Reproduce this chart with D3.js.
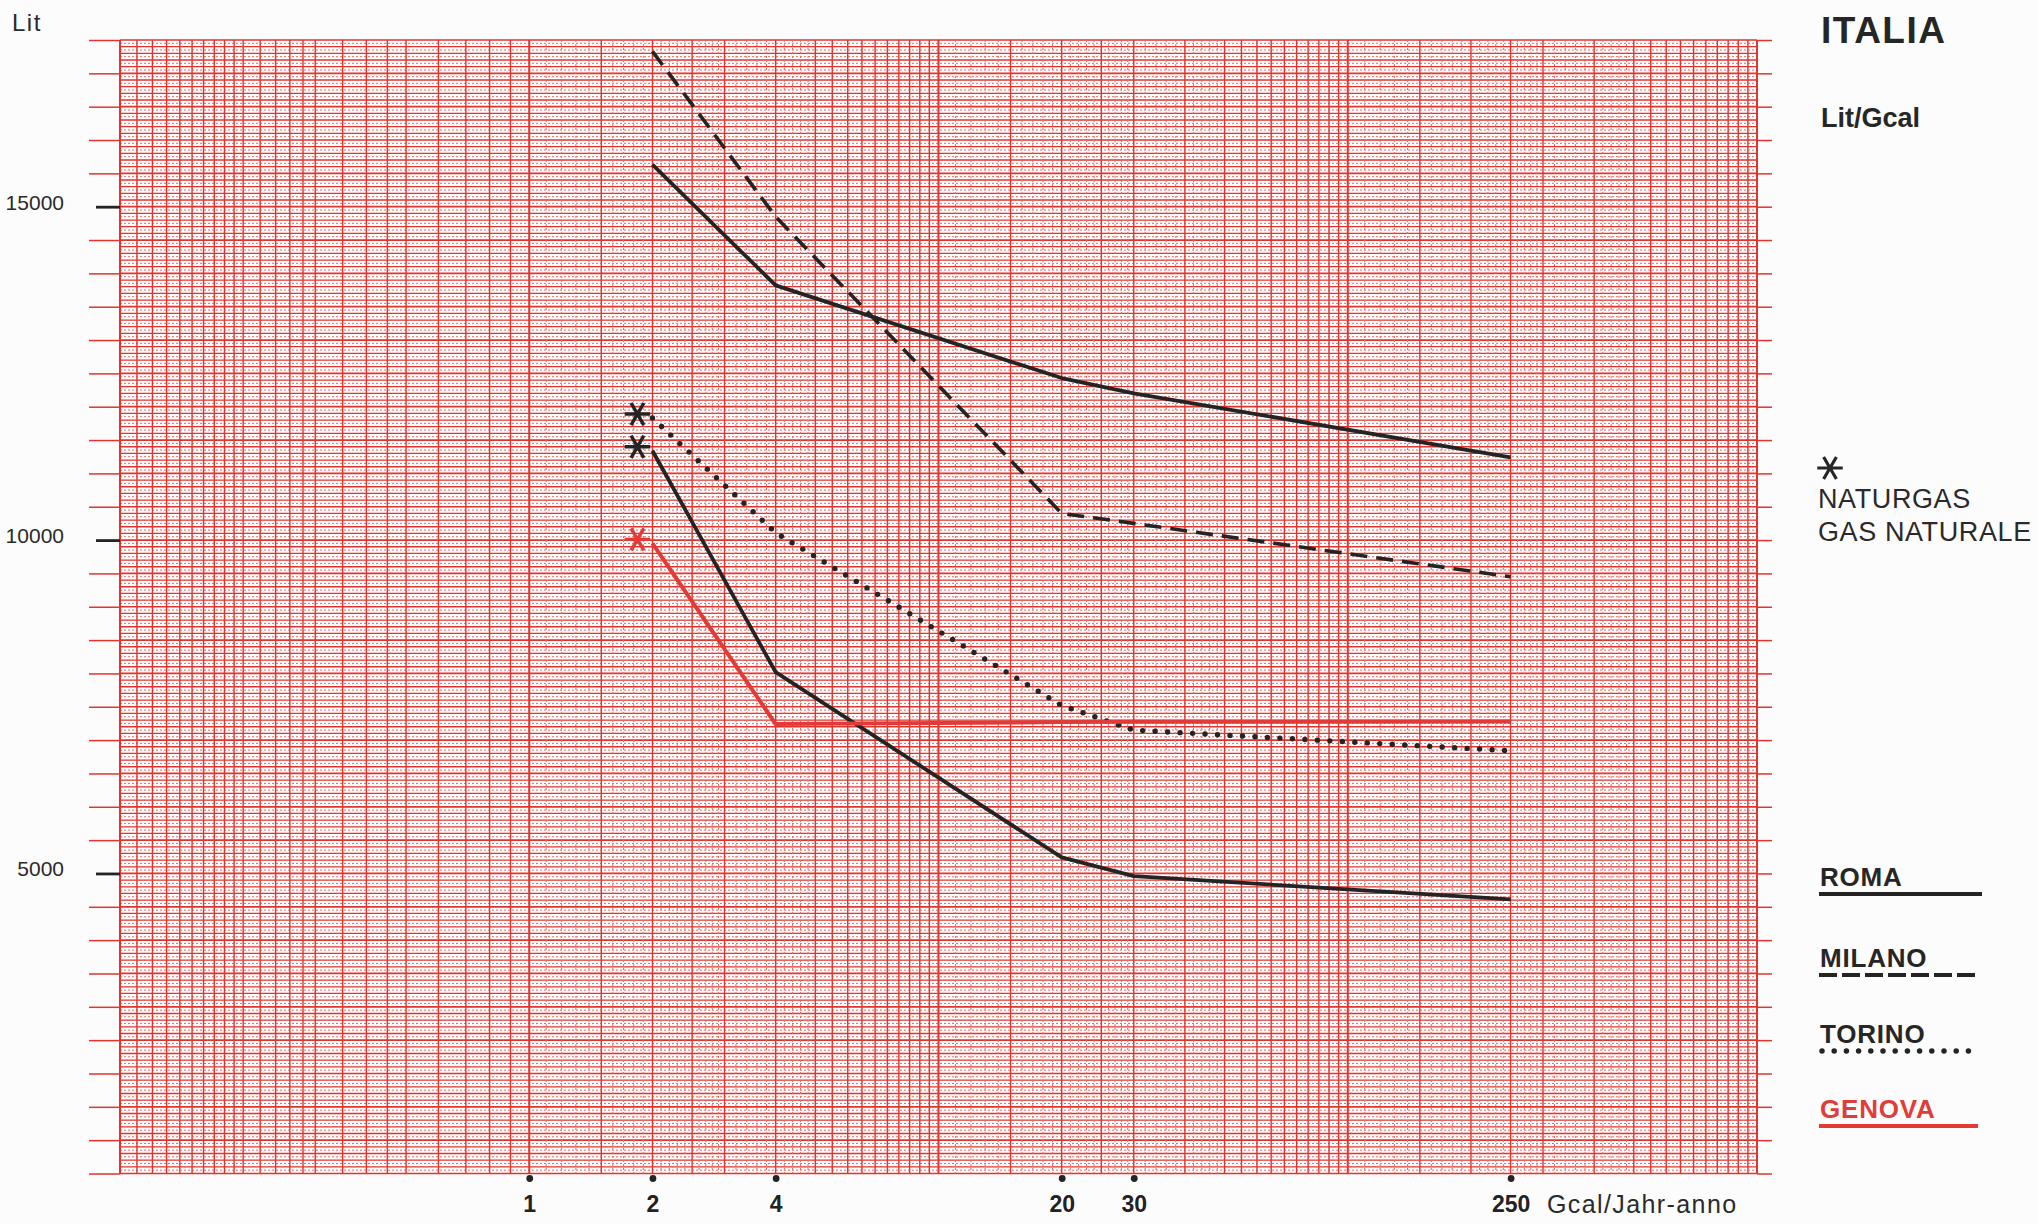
<!DOCTYPE html>
<html>
<head>
<meta charset="utf-8">
<script src="https://cdn.jsdelivr.net/npm/d3@7"></script>
<style>
  html, body { margin: 0; padding: 0; background: #fcfcfc; }
  svg { display: block; }
  text { font-family: "Liberation Sans", Arial, Helvetica, sans-serif; }
</style>
</head>
<body>
<svg id="chart" width="2038" height="1224"></svg>
<script>
// ---- data ----
const xValues = [2, 4, 20, 30, 250];                       // Gcal/Jahr-anno
const romaStadtgas = [15630, 13820, 12430, 12200, 11240];  // solid, upper
const romaNaturgas = [11340, 8020, 5240, 4960, 4610];      // solid, lower (*)
const milano = [17330, 14850, 10400, 10250, 9450];         // dashed
const torino = [11830, 10110, 7520, 7150, 6840];           // dotted (*)
const genova = [9950, 7240, 7270, 7275, 7280];             // red (*)
const xTickValues = [1, 2, 4, 20, 30, 250];
const yTickLabels = [5000, 10000, 15000];
const legendNames = ["ROMA", "MILANO", "TORINO", "GENOVA"];
const naturgasLabels = ["NATURGAS", "GAS NATURALE"];
// log-paper rulings (multipliers inside one decade)
const firstDecadeStrong = [1, 1.1, 1.2, 1.3, 1.4, 1.5, 1.6, 1.7, 1.8, 1.9, 2, 2.2, 2.4, 2.6, 2.8, 3, 3.5, 4, 4.5, 5, 6, 7, 8, 9];
const decadeStrong = [1, 1.5, 2, 2.5, 3, 4, 5, 5.5, 6, 6.5, 7, 7.5, 8, 8.5, 9, 9.5];
const decadeFaint = [1.1, 1.2, 1.3, 1.4, 1.6, 1.7, 1.8, 1.9, 2.1, 2.2, 2.3, 2.4, 2.6, 2.7, 2.8, 2.9, 3.2, 3.4, 3.6, 3.8, 4.2, 4.4, 4.6, 4.8];
const decades = [0.1, 1, 10, 100];

// ---- scales ----
const svg = d3.select("#chart");
const pL = 120, pR = 1757, pT = 40, pB = 1173.5;
const x = d3.scaleLog().domain([0.1, 1000]).range([pL, pR]);
const y = d3.scaleLinear().domain([500, 17500]).range([pB, pT]);

const RED = "#e2342e";
const FAINT = "#ea6a64";
const INK = "#242424";

// ---- grid ----
const grid = svg.append("g");
grid.selectAll("line.hf").data(d3.range(550, 17500, 100)).join("line")
  .attr("x1", pL).attr("x2", pR).attr("y1", d => y(d)).attr("y2", d => y(d))
  .attr("stroke", FAINT).attr("stroke-width", 1).attr("stroke-dasharray", "2 2");
grid.selectAll("line.h").data(d3.range(500, 17501, 100)).join("line")
  .attr("x1", pL).attr("x2", pR).attr("y1", d => y(d)).attr("y2", d => y(d))
  .attr("stroke", RED)
  .attr("stroke-width", d => d % 500 === 0 ? 1.7 : 1.3);

const faintV = [], strongV = [];
decades.forEach((b, i) => {
  if (i === 0) {
    firstDecadeStrong.forEach(m => strongV.push(b * m));
  } else {
    decadeStrong.forEach(m => strongV.push(b * m));
    decadeFaint.forEach(m => faintV.push(b * m));
  }
});
strongV.push(1000);
grid.selectAll("line.vf").data(faintV).join("line")
  .attr("x1", d => x(d)).attr("x2", d => x(d)).attr("y1", pT).attr("y2", pB)
  .attr("stroke", FAINT).attr("stroke-width", 1).attr("stroke-dasharray", "2 2");
grid.selectAll("line.v").data(strongV).join("line")
  .attr("x1", d => x(d)).attr("x2", d => x(d)).attr("y1", pT).attr("y2", pB)
  .attr("stroke", RED)
  .attr("stroke-width", d => (Math.abs(Math.log10(d) - Math.round(Math.log10(d))) < 1e-9) ? 2 : 1.4);

// ---- y axis (left ticks + labels) ----
const yAxis = d3.axisLeft(y)
  .tickValues(d3.range(500, 17501, 500))
  .tickSize(31).tickPadding(25)
  .tickFormat(d => yTickLabels.includes(d) ? String(d) : "");
const gy = svg.append("g").attr("transform", `translate(${pL},0)`).call(yAxis);
gy.select(".domain").remove();
gy.selectAll(".tick line")
  .attr("stroke", d => yTickLabels.includes(d) ? INK : RED)
  .attr("stroke-width", d => yTickLabels.includes(d) ? 2.8 : 1.5)
  .attr("x2", d => yTickLabels.includes(d) ? -24 : -31);
gy.selectAll(".tick text")
  .attr("fill", "#2a2a2a").attr("font-size", 21).attr("dy", "0.12em")
  .style("font-family", "'Liberation Sans', Arial, sans-serif");

const yAxisR = d3.axisRight(y).tickValues(d3.range(500, 17501, 500)).tickSize(15).tickFormat("");
const gyr = svg.append("g").attr("transform", `translate(${pR},0)`).call(yAxisR);
gyr.select(".domain").remove();
gyr.selectAll(".tick line").attr("stroke", RED).attr("stroke-width", 1.5);

svg.append("text").attr("x", 12).attr("y", 31).attr("font-size", 24)
  .attr("letter-spacing", 1.5).attr("fill", "#2a2a2a").text("Lit");

// ---- x axis ----
const xAxis = d3.axisBottom(x).tickValues(xTickValues).tickSize(0).tickPadding(22)
  .tickFormat(d3.format("d"));
const gx = svg.append("g").attr("transform", `translate(0,${pB})`).call(xAxis);
gx.select(".domain").remove();
gx.selectAll(".tick").append("circle").attr("cy", 5).attr("r", 3.4).attr("fill", INK);
gx.selectAll(".tick text")
  .attr("fill", "#222").attr("font-size", 23).attr("font-weight", "bold")
  .style("font-family", "'Liberation Sans Narrow', 'Liberation Sans', Arial, sans-serif");
svg.append("text").attr("x", 1547).attr("y", 1213).attr("font-size", 25)
  .attr("letter-spacing", 1.4).attr("fill", "#2a2a2a").text("Gcal/Jahr-anno");

// ---- series ----
const line = d3.line().x(d => x(d[0])).y(d => y(d[1]));
const pts = arr => xValues.map((v, i) => [v, arr[i]]);
const series = [
  { data: romaStadtgas, stroke: INK, width: 3.8, dash: null, cap: "butt", star: false },
  { data: romaNaturgas, stroke: INK, width: 3.8, dash: null, cap: "butt", star: true },
  { data: milano, stroke: INK, width: 3.6, dash: "17 9", cap: "butt", star: false },
  { data: torino, stroke: INK, width: 5.4, dash: "0 12.5", cap: "round", star: true },
  { data: genova, stroke: "#e23b37", width: 4, dash: null, cap: "butt", star: true }
];
svg.append("g").selectAll("path").data(series).join("path")
  .attr("d", s => line(pts(s.data)))
  .attr("fill", "none").attr("stroke", s => s.stroke)
  .attr("stroke-width", s => s.width)
  .attr("stroke-dasharray", s => s.dash)
  .attr("stroke-linecap", s => s.cap)
  .attr("stroke-linejoin", "round");

const star = d3.symbol().type(d3.symbolAsterisk).size(460);
svg.append("g").selectAll("path").data(series.filter(s => s.star)).join("path")
  .attr("d", star)
  .attr("transform", s => `translate(${x(xValues[0]) - 15},${y(s.data[0]) - 4}) rotate(90)`)
  .attr("fill", "none").attr("stroke", s => s.stroke).attr("stroke-width", 3.4);

// ---- right-hand legend ----
const lg = svg.append("g");
lg.append("text").attr("x", 1821).attr("y", 43).attr("font-size", 37).attr("font-weight", "bold")
  .attr("letter-spacing", 1.5).attr("fill", "#262626").text("ITALIA");
lg.append("text").attr("x", 1821).attr("y", 127).attr("font-size", 27).attr("font-weight", "bold")
  .attr("fill", "#262626").text("Lit/Gcal");
lg.append("path").attr("d", star).attr("transform", "translate(1830,468) rotate(90)")
  .attr("fill", "none").attr("stroke", "#262626").attr("stroke-width", 3.2);
lg.selectAll("text.ng").data(naturgasLabels).join("text")
  .attr("x", 1818).attr("y", (d, i) => 508 + i * 33)
  .attr("font-size", 27).attr("letter-spacing", 0.6).attr("fill", "#2a2a2a").text(d => d);

const legendY = [886, 967, 1043, 1118];
const legendStyle = [
  { stroke: INK, dash: null, width: 4, cap: "butt", x2: 1982 },
  { stroke: INK, dash: "18 5", width: 4, cap: "butt", x2: 1978 },
  { stroke: INK, dash: "0 12.2", width: 5.5, cap: "round", x2: 1980 },
  { stroke: "#e23b37", dash: null, width: 4, cap: "butt", x2: 1978 }
];
legendNames.forEach((name, i) => {
  lg.append("text").attr("x", 1820).attr("y", legendY[i]).attr("font-size", 26)
    .attr("font-weight", "bold").attr("letter-spacing", 0.8)
    .attr("fill", i === 3 ? "#e03c3a" : "#262626").text(name);
  const st = legendStyle[i];
  lg.append("line").attr("x1", st.cap === "round" ? 1822 : 1819).attr("x2", st.x2)
    .attr("y1", legendY[i] + 8).attr("y2", legendY[i] + 8)
    .attr("stroke", st.stroke).attr("stroke-width", st.width)
    .attr("stroke-dasharray", st.dash).attr("stroke-linecap", st.cap);
});
</script>
</body>
</html>
